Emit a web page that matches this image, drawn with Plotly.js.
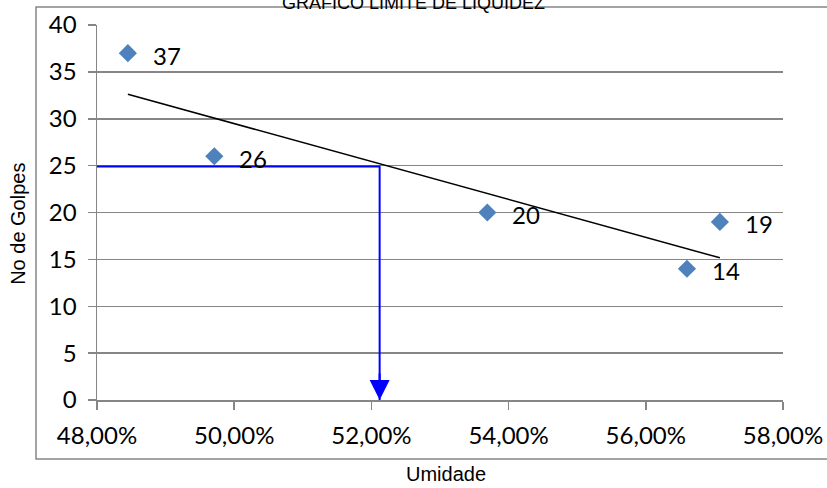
<!DOCTYPE html>
<html>
<head>
<meta charset="utf-8">
<script src="https://cdn.plot.ly/plotly-3.0.1.min.js"></script>
<style>html,body{margin:0;padding:0;background:#fff;}#chart{width:827px;height:488px;}</style>
</head>
<body>
<div id="chart"></div>
<script>
// Data
const umidade = [0.4845, 0.4971, 0.5369, 0.5660, 0.5708]; // moisture content
const golpes = [37, 26, 20, 14, 19];                      // number of blows
const pointLabels = ['37', '26', '20', '14', '19'];
const limiteX = [0.48, 0.5212, 0.5212];  // 25-blow guide (LL reading)
const limiteY = [24.9, 24.9, 0];
const xTicks = [0.48, 0.50, 0.52, 0.54, 0.56, 0.58];
const yTicks = [0, 5, 10, 15, 20, 25, 30, 35, 40];

// Linear trend line (least squares) between min and max moisture
const n = umidade.length;
const mx = umidade.reduce((a, b) => a + b, 0) / n;
const my = golpes.reduce((a, b) => a + b, 0) / n;
let sxy = 0, sxx = 0;
for (let i = 0; i < n; i++) { sxy += (umidade[i] - mx) * (golpes[i] - my); sxx += (umidade[i] - mx) ** 2; }
const slope = sxy / sxx, icpt = my - slope * mx;
const trendX = [Math.min(...umidade), Math.max(...umidade)];
const trendY = trendX.map(x => icpt + slope * x);

const tickFont = {family: 'Lato, sans-serif', size: 24, color: '#000'};
const titleFont = {family: 'Liberation Sans, Arial, sans-serif', size: 20, color: '#000'};
const traces = [
  {x: limiteX, y: limiteY, type: 'scatter', mode: 'lines', line: {color: '#0000ff', width: 2}, hoverinfo: 'skip'},
  {x: trendX, y: trendY, type: 'scatter', mode: 'lines', line: {color: '#000', width: 1.5}, hoverinfo: 'skip'},
  {x: umidade, y: golpes, type: 'scatter', mode: 'markers', marker: {symbol: 'diamond', size: 14, color: '#4f81bd'}}
];
const annotations = umidade.map((x, i) => ({
  x: x, y: golpes[i], xref: 'x', yref: 'y', text: pointLabels[i], showarrow: false,
  xanchor: 'left', yanchor: 'middle', xshift: 23, yshift: -2, font: tickFont
}));
annotations.push({
  x: limiteX[2], y: limiteY[2], xref: 'x', yref: 'y', ax: limiteX[2], ay: 3, axref: 'x', ayref: 'y',
  text: '', showarrow: true, arrowhead: 2, arrowsize: 2, arrowwidth: 2, arrowcolor: '#0000ff', standoff: 0
});
// Axis titles placed as in the reference (centred on the chart frame)
annotations.push({text: 'Umidade', xref: 'paper', yref: 'paper', x: 0.509, y: -0.197, showarrow: false,
  xanchor: 'center', yanchor: 'middle', borderpad: 0, font: titleFont});
annotations.push({text: 'No de Golpes', xref: 'paper', yref: 'paper', x: -0.115, y: 0.47, showarrow: false,
  textangle: -90, xanchor: 'center', yanchor: 'middle', font: titleFont});

const layout = {
  width: 827, height: 488,
  margin: {l: 97, r: 44, t: 25, b: 88},
  paper_bgcolor: '#fff', plot_bgcolor: '#fff',
  separators: ',.',
  showlegend: false,
  title: {text: 'GRAFICO LIMITE DE LIQUIDEZ', font: {family: 'Liberation Sans, Arial, sans-serif', size: 18, color: '#000'},
          x: 0.5, xanchor: 'center', yref: 'container', y: 0.982, yanchor: 'bottom'},
  xaxis: {
    range: [0.48, 0.58], tickvals: xTicks, tickformat: '.2%', tickfont: tickFont,
    showgrid: false, zeroline: false, showline: true, linecolor: '#868686', linewidth: 1.5,
    ticks: 'outside', ticklen: 8, tickcolor: '#868686', tickwidth: 1.5, ticklabelstandoff: 6
  },
  yaxis: {
    range: [0, 40], tickvals: yTicks, tickfont: tickFont,
    showgrid: true, gridcolor: '#868686', gridwidth: 1.5, zeroline: false,
    showline: true, linecolor: '#868686', linewidth: 1.5,
    ticks: 'outside', ticklen: 8, tickcolor: '#868686', tickwidth: 1.5, ticklabelstandoff: 6
  },
  shapes: [{type: 'rect', xref: 'paper', yref: 'paper', x0: -0.0889, x1: 1.08, y0: -0.1573, y1: 1.048,
            line: {color: '#868686', width: 1.5}, fillcolor: 'rgba(0,0,0,0)', layer: 'below'}],
  annotations: annotations
};
Plotly.newPlot('chart', traces, layout, {displayModeBar: false, staticPlot: true});
</script>
</body>
</html>
